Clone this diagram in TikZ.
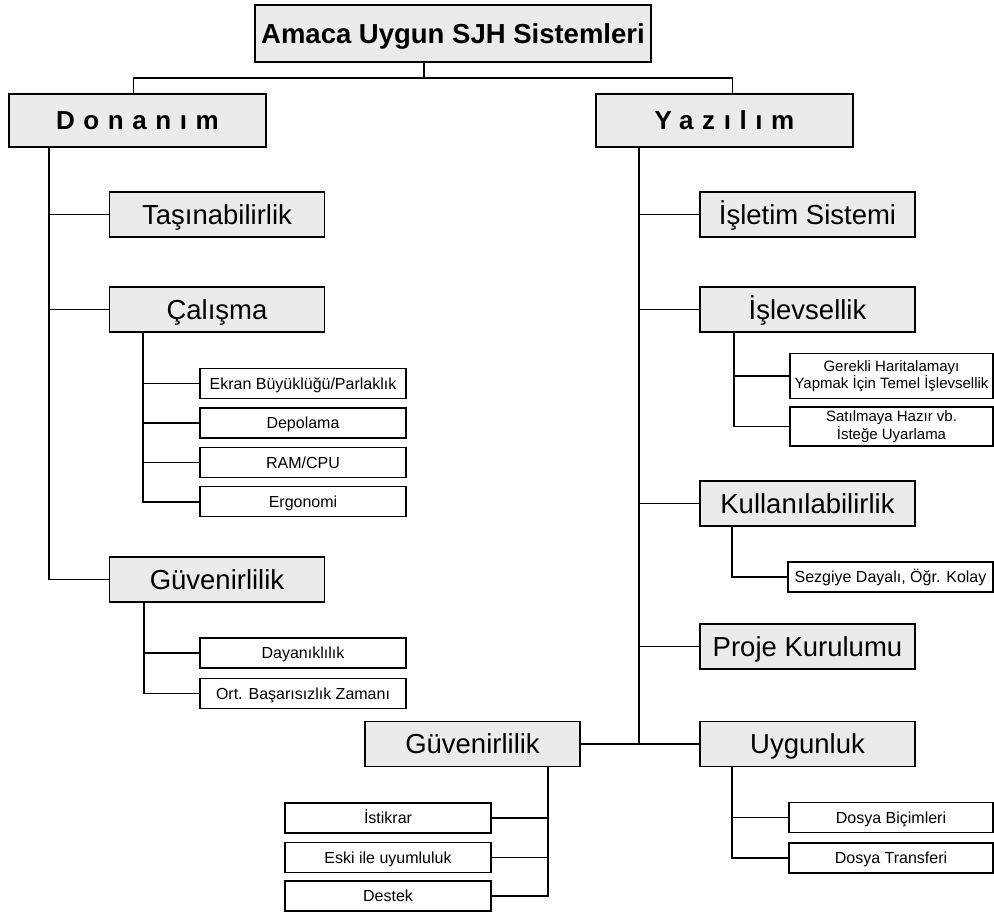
\documentclass[tikz,border=0pt]{standalone}
\usepackage{fontspec}
\setmainfont{Liberation Sans}
\newfontfamily\spacedfont[LetterSpace=33]{Liberation Sans}
\usepackage{tikz}
\usetikzlibrary{positioning}
\definecolor{boxgray}{rgb}{0.92, 0.92, 0.92}

\begin{document}
\begin{tikzpicture}[x=1pt, y=-1pt]
		\tikzstyle{rootbox}=[draw=black, line width=1.6pt, fill=boxgray, minimum width=396pt, minimum height=57pt, text height=19.7pt, text depth=0pt, font=\bfseries\fontsize{27.5}{30}\selectfont]
		\tikzstyle{groupbox}=[draw=black, line width=1.6pt, fill=boxgray, minimum width=257pt, minimum height=53pt, text height=18.6pt, text depth=0pt, font=\spacedfont\bfseries\fontsize{26}{28}\selectfont]
		\tikzstyle{mainbox}=[draw=black, line width=1.6pt, fill=boxgray, minimum width=215pt, minimum height=45pt, inner sep=1pt, text height=19.7pt, text depth=0pt, font=\fontsize{27.5}{30}\selectfont]
		\tikzstyle{leafbox}=[draw=black, line width=1.4pt, fill=white, minimum width=206pt, minimum height=30pt, inner sep=1pt, align=center, text height=11.5pt, text depth=0pt, font=\fontsize{16}{18}\selectfont]
		\tikzstyle{twoline}=[minimum width=203pt, text height=, text depth=, font=\fontsize{15}{17.5}\selectfont]
		\tikzstyle{link}=[line width=1.6pt]
		
		\useasboundingbox (0,0) rectangle (994,913);
		
		\node[rootbox] (root) at (453,33.5) {Amaca Uygun SJH Sistemleri};
		\node[groupbox] (don) at (137.5,120.5) {Donanım};
		\node[groupbox] (yaz) at (724.5,120.5) {Yazılım};
		
		%% donanim
		\node[mainbox] (tas) at (217,214.5) {Taşınabilirlik};
		\node[mainbox] (cal) at (217,309.5) {Çalışma};
		\node[leafbox] (ekran) at (303,383.5) {Ekran Büyüklüğü/Parlaklık};
		\node[leafbox, below=8pt of ekran] (depo) {Depolama};
		\node[leafbox, below=8pt of depo] (ram) {RAM/CPU};
		\node[leafbox, below=8pt of ram] (ergo) {Ergonomi};
		\node[mainbox] (guvl) at (217,579.5) {Güvenirlilik};
		\node[leafbox] (dayan) at (303,653) {Dayanıklılık};
		\node[leafbox, below=9pt of dayan] (ort) {Ort. Başarısızlık Zamanı};
		
		%% yazilim
		\node[mainbox] (isletim) at (807.5,214.5) {İşletim Sistemi};
		\node[mainbox] (islev) at (807.5,309.5) {İşlevsellik};
		\node[leafbox, twoline, minimum height=45pt] (gerekli) at (891.5,376) {Gerekli Haritalamayı\\Yapmak İçin Temel İşlevsellik};
		\node[leafbox, twoline, minimum height=39pt] (satil) at (891.5,426.5) {Satılmaya Hazır vb.\\İsteğe Uyarlama};
		\node[mainbox] (kull) at (807.5,503.5) {Kullanılabilirlik};
		\node[leafbox, minimum width=205pt] (sezgi) at (890.5,577) {Sezgiye Dayalı, Öğr. Kolay};
		\node[mainbox] (proje) at (807.5,646.5) {Proje Kurulumu};
		\node[mainbox] (uyg) at (807.5,744) {Uygunluk};
		\node[leafbox, minimum width=204pt] (bicim) at (891,817.5) {Dosya Biçimleri};
		\node[leafbox, minimum width=204pt, below=9pt of bicim] (transfer) {Dosya Transferi};
		\node[mainbox] (guvb) at (472.5,744) {Güvenirlilik};
		\node[leafbox] (istik) at (388,818) {İstikrar};
		\node[leafbox, below=8pt of istik] (eski) {Eski ile uyumluluk};
		\node[leafbox, below=7pt of eski] (destek) {Destek};
		
		%% top level
		\coordinate (rj) at (424,78);
		\draw[link] (root.south -| rj) -- (rj);
		\draw[link] ([xshift=-4pt]don.north) |- (rj) -| ([xshift=8pt]yaz.north);
		
		\coordinate (dtrunk) at ([xshift=41pt]don.south west);
		\draw[link] (dtrunk) |- (guvl.west);
		\draw[link] (dtrunk |- tas.west) -- (tas.west);
		\draw[link] (dtrunk |- cal.west) -- (cal.west);
		
		\coordinate (ctrunk) at ([xshift=34pt]cal.south west);
		\draw[link] (ctrunk) |- (ergo.west);
		\foreach \n in {ekran,depo,ram} \draw[link] (ctrunk |- \n.west) -- (\n.west);
		
		\coordinate (gtrunk) at ([xshift=35pt]guvl.south west);
		\draw[link] (gtrunk) |- (ort.west);
		\draw[link] (gtrunk |- dayan.west) -- (dayan.west);
		
		\coordinate (ytrunk) at ([xshift=44pt]yaz.south west);
		\draw[link] (ytrunk) -- (ytrunk |- uyg.west);
		\foreach \n in {isletim,islev,kull,proje} \draw[link] (ytrunk |- \n.west) -- (\n.west);
		\draw[link] (guvb.east) -- (uyg.west);
		
		\coordinate (ftrunk) at ([xshift=35pt]islev.south west);
		\draw[link] (ftrunk) |- (satil.west);
		\draw[link] (ftrunk |- gerekli.west) -- (gerekli.west);
		
		\coordinate (ktrunk) at ([xshift=33pt]kull.south west);
		\draw[link] (ktrunk) |- (sezgi.west);
		
		\coordinate (utrunk) at ([xshift=33pt]uyg.south west);
		\draw[link] (utrunk) |- (transfer.west);
		\draw[link] (utrunk |- bicim.west) -- (bicim.west);
		
		\coordinate (btrunk) at ([xshift=-33pt]guvb.south east);
		\draw[link] (btrunk) |- (destek.east);
		\draw[link] (btrunk |- istik.east) -- (istik.east);
		\draw[link] (btrunk |- eski.east) -- (eski.east);
\end{tikzpicture}
\end{document}
